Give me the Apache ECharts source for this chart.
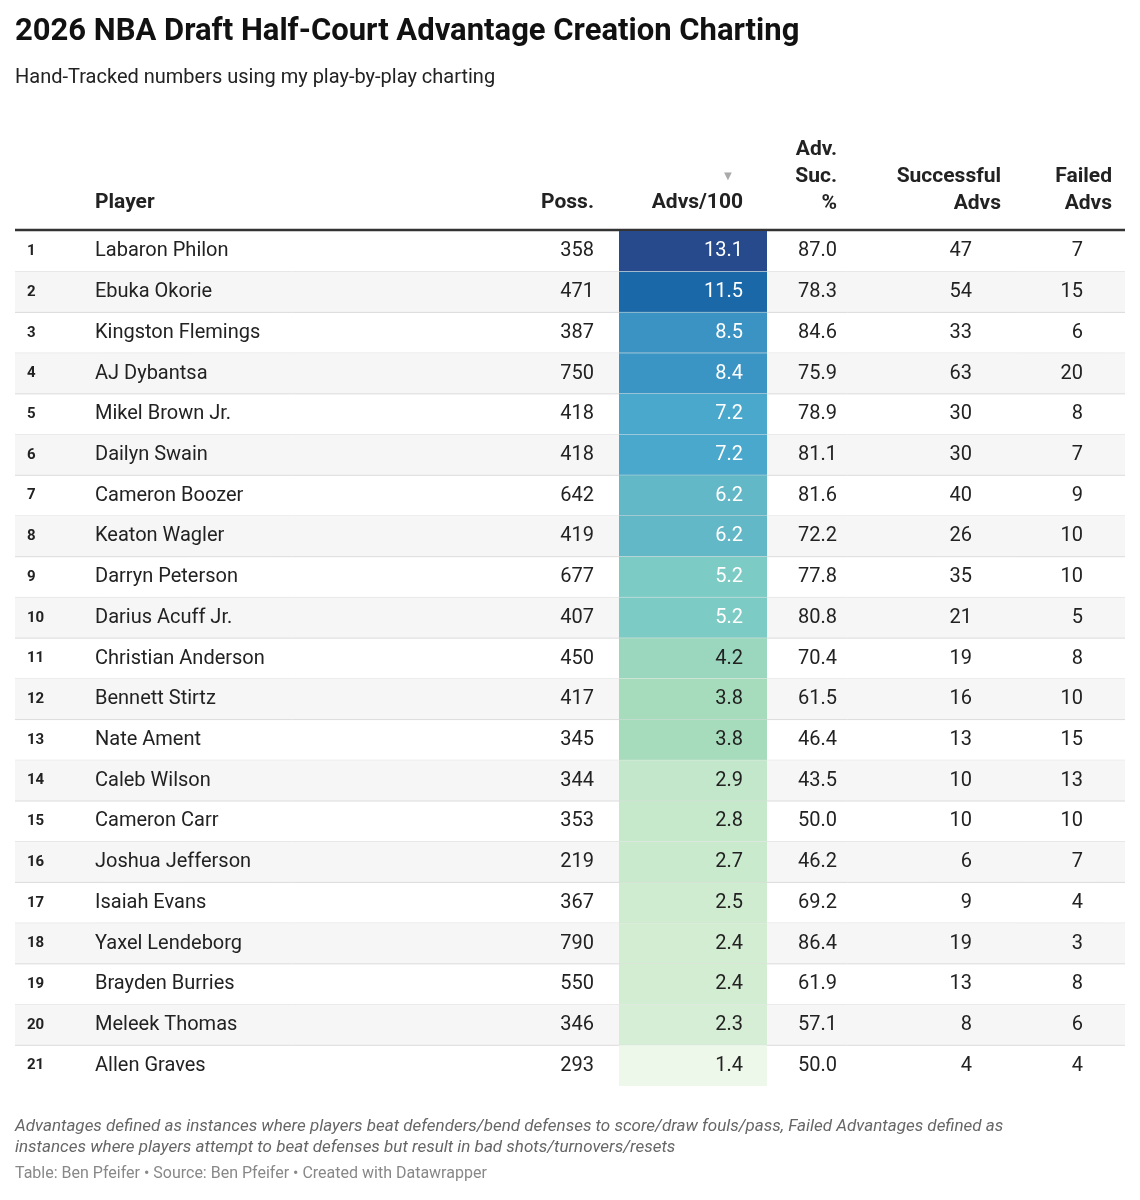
<!DOCTYPE html>
<html><head><meta charset="utf-8">
<script src="https://cdn.jsdelivr.net/npm/echarts@6/dist/echarts.min.js"></script>
<style>body{margin:0;background:#fff}#main{width:1140px;height:1200px}</style>
</head><body><div id="main"></div>
<script>
var players = ['Labaron Philon','Ebuka Okorie','Kingston Flemings','AJ Dybantsa','Mikel Brown Jr.','Dailyn Swain','Cameron Boozer','Keaton Wagler','Darryn Peterson','Darius Acuff Jr.','Christian Anderson','Bennett Stirtz','Nate Ament','Caleb Wilson','Cameron Carr','Joshua Jefferson','Isaiah Evans','Yaxel Lendeborg','Brayden Burries','Meleek Thomas','Allen Graves'];
var poss = [358,471,387,750,418,418,642,419,677,407,450,417,345,344,353,219,367,790,550,346,293];
var advs100 = [13.1,11.5,8.5,8.4,7.2,7.2,6.2,6.2,5.2,5.2,4.2,3.8,3.8,2.9,2.8,2.7,2.5,2.4,2.4,2.3,1.4];
var sucPct = [87.0,78.3,84.6,75.9,78.9,81.1,81.6,72.2,77.8,80.8,70.4,61.5,46.4,43.5,50.0,46.2,69.2,86.4,61.9,57.1,50.0];
var sucAdvs = [47,54,33,63,30,30,40,26,35,21,19,16,13,10,10,6,9,19,13,8,4];
var failAdvs = [7,15,6,20,8,7,9,10,10,5,8,10,15,13,10,7,4,3,8,6,4];

// colour stops for Advs/100
var stops = [[1.4,[238,248,234]],[2.5,[208,236,208]],[3.8,[166,220,188]],[5.2,[124,203,196]],[6.2,[98,184,198]],[7.2,[74,168,204]],[8.5,[58,147,195]],[11.5,[26,104,168]],[13.1,[38,74,140]]];
function cellColor(v){
  for(var i=1;i<stops.length;i++){
    if(v<=stops[i][0]){
      var a=stops[i-1],b=stops[i],t=(v-a[0])/(b[0]-a[0]);
      var c=a[1].map(function(x,k){return Math.round(x+(b[1][k]-x)*t);});
      return 'rgb('+c.join(',')+')';
    }
  }
  return 'rgb('+stops[stops.length-1][1].join(',')+')';
}

var F='Roboto, sans-serif';
var chart = echarts.init(document.getElementById('main'));
chart.setOption({
  animation:false,
  grid:{left:15,top:231,width:1110,height:855},
  xAxis:{type:'value',min:0,max:1110,show:false},
  yAxis:{type:'category',data:players,inverse:true,show:false},
  series:[{
    type:'custom',
    data:players.map(function(p,i){return [0,i];}),
    encode:{x:0,y:1},
    renderItem:function(params,api){
      var i=api.value(1);
      var p=api.coord([0,i]);
      var h=api.size([0,1])[1];
      var top=p[1]-h/2, cy=p[1], x0=p[0];
      var txt=function(x,s,align,opt){
        opt=opt||{};
        return {type:'text',style:{x:x0+x,y:cy,text:String(s),align:align,verticalAlign:'middle',
          font:(opt.bold?'bold ':'')+(opt.size||20)+'px '+F,fill:opt.fill||'#222'}};
      };
      var ch=[];
      if(i%2===1) ch.push({type:'rect',shape:{x:x0,y:top,width:1110,height:h},style:{fill:'#f6f6f6'}});
      ch.push({type:'rect',shape:{x:x0+604,y:top,width:148,height:h},style:{fill:cellColor(advs100[i])}});
      if(i<players.length-1) ch.push({type:'line',shape:{x1:x0,y1:top+h,x2:x0+1110,y2:top+h},style:{stroke:'#dcdcdc',lineWidth:1}});
      ch.push(txt(12,i+1,'left',{bold:true,size:15}));
      ch.push(txt(80,players[i],'left'));
      ch.push(txt(579,poss[i],'right'));
      ch.push(txt(728,advs100[i].toFixed(1),'right',{fill:advs100[i]>5?'#fff':'#222'}));
      ch.push(txt(822,sucPct[i].toFixed(1),'right'));
      ch.push(txt(957,sucAdvs[i],'right'));
      ch.push(txt(1068,failAdvs[i],'right'));
      return {type:'group',children:ch};
    }
  }],
  graphic:[
    {type:'text',left:15,top:17,style:{text:'2026 NBA Draft Half-Court Advantage Creation Charting',font:'bold 31px '+F,fill:'#111'}},
    {type:'text',left:15,top:68,style:{text:'Hand-Tracked numbers using my play-by-play charting',font:'20px '+F,fill:'#222'}},
    {type:'text',x:95,y:203,style:{text:'Player',font:'bold 21px '+F,fill:'#222',verticalAlign:'middle'}},
    {type:'text',x:594,y:203,style:{text:'Poss.',font:'bold 21px '+F,fill:'#222',align:'right',verticalAlign:'middle'}},
    {type:'text',x:743,y:203,style:{text:'Advs/100',font:'bold 21px '+F,fill:'#222',align:'right',verticalAlign:'middle'}},
    {type:'text',x:728,y:177,style:{text:'▼',font:'13px '+F,fill:'#aaa',align:'center',verticalAlign:'middle'}},
    {type:'text',x:837,y:136,style:{text:'Adv.\nSuc.\n%',font:'bold 21px '+F,lineHeight:27,fill:'#222',align:'right'}},
    {type:'text',x:1001,y:163,style:{text:'Successful\nAdvs',font:'bold 21px '+F,lineHeight:27,fill:'#222',align:'right'}},
    {type:'text',x:1112,y:163,style:{text:'Failed\nAdvs',font:'bold 21px '+F,lineHeight:27,fill:'#222',align:'right'}},
    {type:'line',shape:{x1:15,y1:230,x2:1125,y2:230},style:{stroke:'#333',lineWidth:2.5}},
    {type:'text',left:15,top:1116,style:{text:'Advantages defined as instances where players beat defenders/bend defenses to score/draw fouls/pass, Failed Advantages defined as\ninstances where players attempt to beat defenses but result in bad shots/turnovers/resets',font:'italic 17px '+F,lineHeight:21,fill:'#666'}},
    {type:'text',left:15,top:1166,style:{text:'Table: Ben Pfeifer • Source: Ben Pfeifer • Created with Datawrapper',font:'16px '+F,fill:'#888'}}
  ]
});
</script></body></html>
